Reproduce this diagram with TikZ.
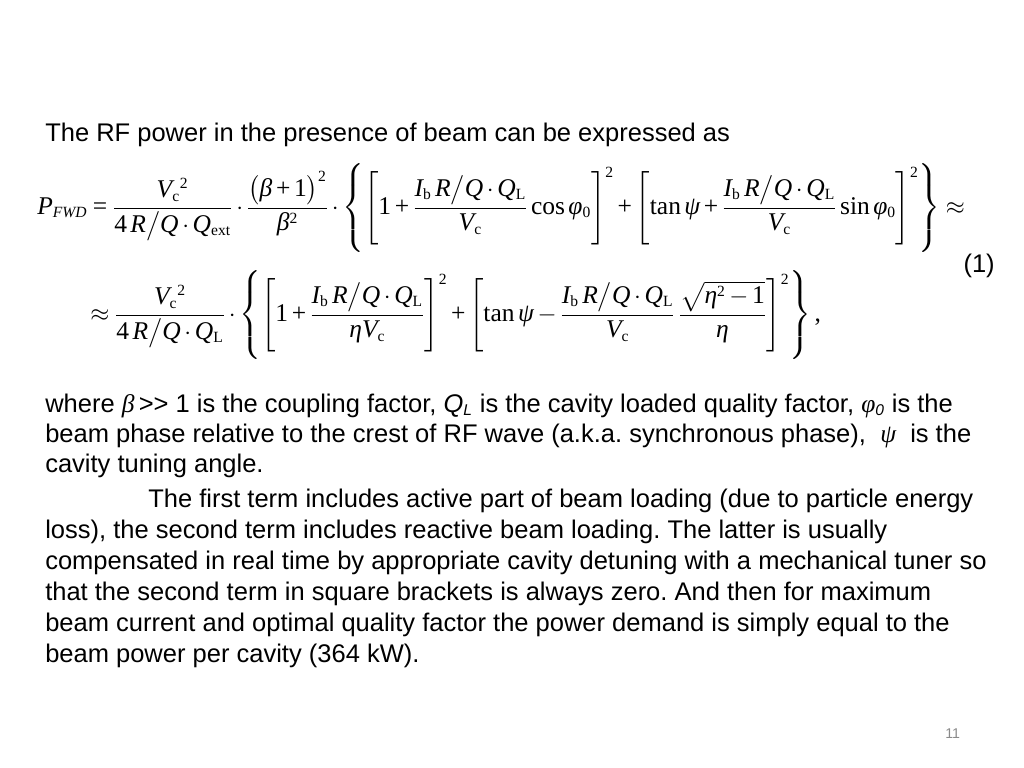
\documentclass[tikz,border=0pt]{standalone}
\usepackage{amsmath}
\usepackage[no-math]{fontspec}
\setmainfont{Liberation Sans}
\newfontfamily\eqserif{Liberation Serif}[NFSSFamily=libser]
\DeclareSymbolFont{letters}{TU}{libser}{m}{it}
\DeclareSymbolFont{operators}{TU}{libser}{m}{n}
\DeclareMathSizes{18}{18}{11}{8}
\usetikzlibrary{positioning}

% greek letters taken from the serif font
\Umathchardef\beta="0 "1 "03B2
\Umathchardef\eta="0 "1 "03B7
\Umathchardef\psi="0 "1 "03C8
\Umathchardef\varphi="0 "1 "03C6
\delcode`\/="30E30E
\newcommand{\eqcomma}{\mathpunct{\mathchar"002C}}
\frenchspacing

\tikzset{
  txt/.style={anchor=base west, inner sep=0pt, font=\fontsize{18}{21.6}\selectfont},
  eqn/.style={anchor=west, inner sep=0pt, font=\fontsize{18}{21.6}\selectfont,
    execute at begin node={\medmuskip=2.7mu plus 1mu\thickmuskip=4mu plus 2mu\thinmuskip=2.5mu}},
}

\begin{document}
\begin{tikzpicture}[x=0.705762pt, y=-0.705762pt]

\useasboundingbox (0,0) rectangle (1024,768);

\node (Intro) at (45,142) [txt]{The RF power in the presence of beam can be expressed as};

\node (EqLineA) at (37,208) [eqn]{$\displaystyle P_{FWD}=\frac{V_{\mathrm{c}}{}^{2}}{4\,R\big/Q\cdot Q_{\mathrm{ext}}}\cdot\frac{\bigl(\beta+1\bigr)^{2}}{\beta^{2}}\cdot\left\{\left[1+\frac{I_{\mathrm{b}}\,R\big/Q\cdot Q_{\mathrm{L}}}{V_{\mathrm{c}}}\cos\varphi_{0}\right]^{2}+\left[\tan\psi+\frac{I_{\mathrm{b}}\,R\big/Q\cdot Q_{\mathrm{L}}}{V_{\mathrm{c}}}\sin\varphi_{0}\right]^{2}\right\}\approx$};
\node (EqNumber) at (995,272) [txt, anchor=base east]{(1)};
\node (EqLineB) at (90,315) [eqn]{$\displaystyle \approx\frac{V_{\mathrm{c}}{}^{2}}{4\,R\big/Q\cdot Q_{\mathrm{L}}}\cdot\left\{\left[1+\frac{I_{\mathrm{b}}\,R\big/Q\cdot Q_{\mathrm{L}}}{\eta V_{\mathrm{c}}}\right]^{2}+\left[\tan\psi-\frac{I_{\mathrm{b}}\,R\big/Q\cdot Q_{\mathrm{L}}}{V_{\mathrm{c}}}\,\frac{\sqrt{\eta^{2}-1}}{\eta}\right]^{2}\right\}\eqcomma$};

\node (WhereA) at (45,412) [txt]{where $\beta$\,>{}> 1 is the coupling factor, \textit{Q\textsubscript{L}} is the cavity loaded quality factor, $\varphi$\textsubscript{\textit{0}} is the};
\node (WhereB) at (45,442) [txt]{beam phase relative to the crest of RF wave (a.k.a. synchronous phase), ~$\psi$~ is the};
\node (WhereC) at (45,472) [txt]{cavity tuning angle.};

\node (TermA) at (148,507) [txt]{The first term includes active part of beam loading (due to particle energy};
\node (TermB) at (45,538) [txt]{loss), the second term includes reactive beam loading. The latter is usually};
\node (TermC) at (45,569) [txt]{compensated in real time by appropriate cavity detuning with a mechanical tuner so};
\node (TermD) at (45,600) [txt]{that the second term in square brackets is always zero. And then for maximum};
\node (TermE) at (45,631) [txt]{beam current and optimal quality factor the power demand is simply equal to the};
\node (TermF) at (45,662) [txt]{beam power per cavity (364 kW).};

\node (PageNo) at (945,738) [txt, font=\fontsize{10}{12}\selectfont, text=black!46]{11};

\end{tikzpicture}
\end{document}
